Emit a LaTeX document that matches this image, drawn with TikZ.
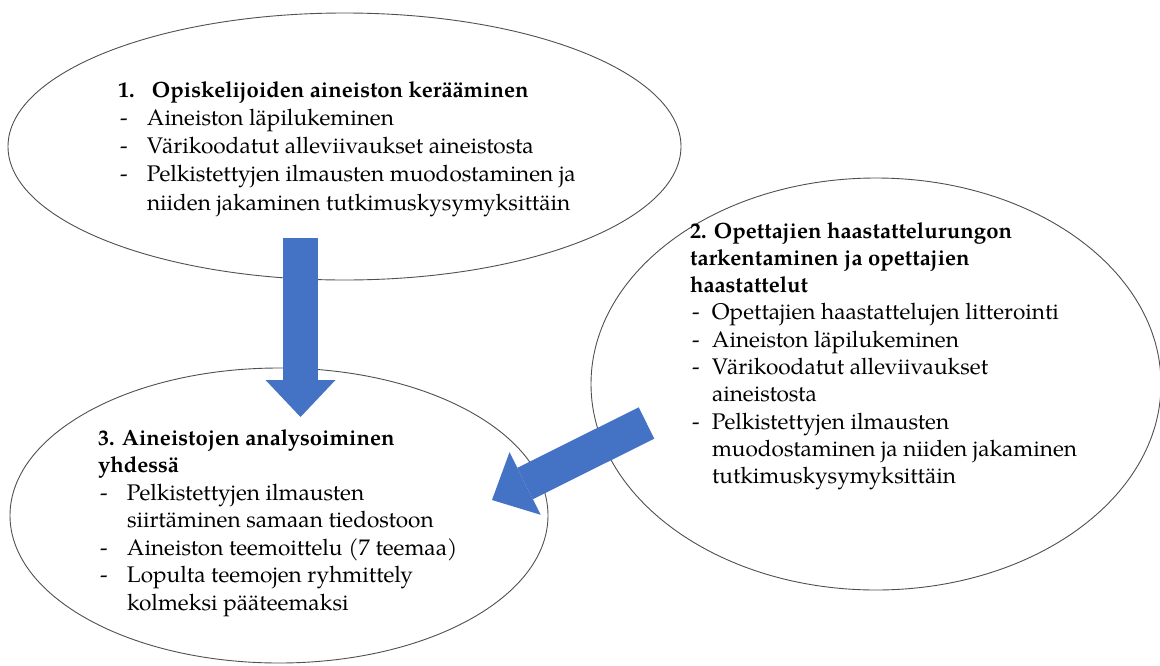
\documentclass[tikz,border=0pt]{standalone}
\usepackage{fontspec}
\setmainfont{texgyrepagella}[Extension=.otf, UprightFont=*-regular, BoldFont=*-bold, ItalicFont=*-italic, BoldItalicFont=*-bolditalic]
\usetikzlibrary{arrows.meta,shapes.geometric}
\definecolor{arrowblue}{HTML}{4472C4}
\definecolor{edgegray}{HTML}{505050}
\newcommand{\dashitem}[2]{\makebox[#1][l]{\hspace{2pt}-}#2}
\newcommand{\contline}[2]{\hspace*{#1}#2}
\newcommand{\hd}[1]{{\fontsize{22.1}{27}\selectfont\bfseries #1}}
\newcommand{\numhead}[3]{\hd{\makebox[#1][l]{#2}#3}}
\tikzset{
  bubble/.style={ellipse, draw=edgegray, line width=0.9pt, fill=white, inner sep=0pt},
  blocktext/.style={anchor=base west, inner sep=0pt, outer sep=0pt},
  bigarrow/.style={draw=arrowblue, line width=35pt,
    -{Triangle[width=70pt, length=37pt, line width'=0pt]}},
}
\begin{document}
\begin{tikzpicture}[x=1pt, y=-1pt]
\useasboundingbox (0,0) rectangle (1160,665);
\fill[white] (0,0) rectangle (1160,665);

\node[bubble, minimum width=673pt, minimum height=267pt] (e1) at (344.5,146.5) {};
\node[bubble, minimum width=570pt, minimum height=412pt] (e2) at (876,384) {};
\node[bubble, minimum width=538pt, minimum height=295pt] (e3) at (279,515.5) {};

\node[blocktext] (t1) at (118,97) {\parbox[t]{540pt}{\fontsize{22.6}{28.3}\selectfont\raggedright
\numhead{34pt}{1.}{Opiskelijoiden aineiston kerääminen}\\
\dashitem{29pt}{Aineiston läpilukeminen}\\
\dashitem{29pt}{Värikoodatut alleviivaukset aineistosta}\\
\dashitem{29pt}{Pelkistettyjen ilmausten muodostaminen ja}\\
\contline{29pt}{niiden jakaminen tutkimuskysymyksittäin}}};

\node[blocktext] (t2) at (690,238) {\parbox[t]{460pt}{\fontsize{22.6}{27.3}\selectfont\raggedright
\hd{2. Opettajien haastattelurungon}\\
\hd{tarkentaminen ja opettajien}\\
\hd{haastattelut}\\
\dashitem{22pt}{Opettajien haastattelujen litterointi}\\
\dashitem{22pt}{Aineiston läpilukeminen}\\
\dashitem{22pt}{Värikoodatut alleviivaukset}\\
\contline{22pt}{aineistosta}\\
\dashitem{22pt}{Pelkistettyjen ilmausten}\\
\contline{22pt}{muodostaminen ja niiden jakaminen}\\
\contline{22pt}{tutkimuskysymyksittäin}}};

\node[blocktext] (t3) at (98,445) {\parbox[t]{440pt}{\fontsize{22.6}{27.5}\selectfont\raggedright
\hd{3. Aineistojen analysoiminen}\\
\hd{yhdessä}\\
\dashitem{29pt}{Pelkistettyjen ilmausten}\\
\contline{29pt}{siirtäminen samaan tiedostoon}\\
\dashitem{29pt}{Aineiston teemoittelu (7 teemaa)}\\
\dashitem{29pt}{Lopulta teemojen ryhmittely}\\
\contline{29pt}{kolmeksi pääteemaksi}}};

\coordinate (a1s) at (300.5,238);
\coordinate (a1e) at (300.5,417);
\coordinate (a2s) at (646.5,423);
\coordinate (a2e) at (492,500);
\draw[bigarrow] (a1s) -- (a1e);
\draw[bigarrow] (a2s) -- (a2e);
\end{tikzpicture}
\end{document}
